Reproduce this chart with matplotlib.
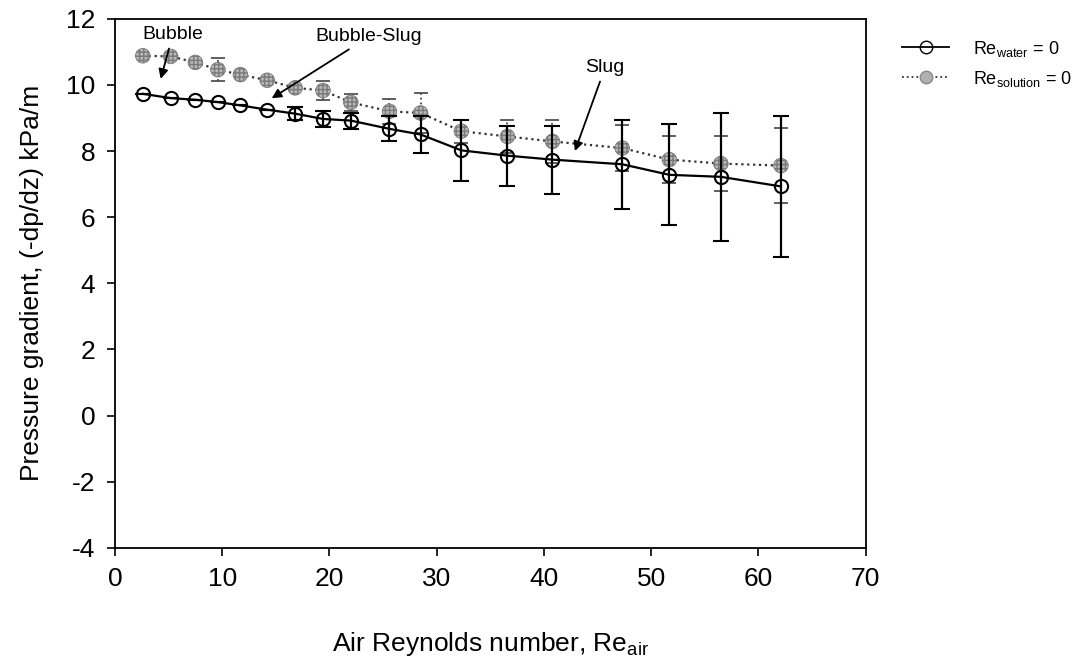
import numpy as np
import matplotlib
matplotlib.use("Agg")
import matplotlib.pyplot as plt
from matplotlib.lines import Line2D

plt.rcParams["font.family"] = ["Liberation Sans", "DejaVu Sans"]
plt.rcParams["axes.unicode_minus"] = False

# -*- Daten
re_air = [2.6, 5.2, 7.5, 9.6, 11.7, 14.2, 16.8, 19.4, 22.0, 25.6,
          28.5, 32.3, 36.6, 40.8, 47.3, 51.7, 56.5, 62.1]
dp_water = [9.73, 9.60, 9.55, 9.48, 9.38, 9.25, 9.13, 8.97, 8.92, 8.67,
            8.50, 8.02, 7.86, 7.74, 7.60, 7.28, 7.22, 6.93]
err_water = [0, 0, 0, 0, 0, 0, 0.20, 0.23, 0.24, 0.38,
             0.56, 0.92, 0.91, 1.03, 1.35, 1.53, 1.93, 2.13]
dp_solution = [10.88, 10.86, 10.68, 10.46, 10.31, 10.14, 9.91, 9.83, 9.47, 9.20,
               9.15, 8.60, 8.44, 8.29, 8.09, 7.74, 7.62, 7.56]
err_solution = [0, 0, 0, 0.35, 0, 0, 0, 0.28, 0.26, 0.37,
                0.60, 0.35, 0.49, 0.64, 0.70, 0.70, 0.82, 1.13]

x_ticks = [0, 10, 20, 30, 40, 50, 60, 70]
y_ticks = [-4, -2, 0, 2, 4, 6, 8, 10, 12]

fig = plt.figure(figsize=(10.74, 6.69), dpi=100)
ax = fig.add_axes([0.107, 0.181, 0.699, 0.791])

# Loesung: gepunktete Linie, graue Marker
eb = ax.errorbar(re_air, dp_solution, yerr=err_solution, fmt="none",
                 ecolor="#444444", elinewidth=1.3, capsize=5, capthick=1.2,
                 zorder=2)
eb[2][0].set_linestyle(":")
for cap in eb[1]:
    cap.set_color("#666666")
ax.plot(re_air, dp_solution, ls=":", color="#333333", lw=1.6, zorder=2)
ax.scatter(re_air, dp_solution, s=110, marker="o", facecolor="#b8b8b8",
           edgecolor="#7a7a7a", hatch="++++", linewidths=0.6, zorder=3)

# Wasser: durchgezogene Linie, offene Kreise
ax.errorbar(re_air, dp_water, yerr=err_water, fmt="-o", color="black",
            lw=1.6, ms=9.5, mfc="none", mec="black", mew=1.5,
            elinewidth=1.6, capsize=5.5, capthick=1.6, zorder=4)

ax.set_xlim(0, 70)
ax.set_ylim(-4, 12)
ax.set_xticks(x_ticks)
ax.set_yticks(y_ticks)
ax.tick_params(direction="out", length=6, width=1.2, labelsize=19, pad=8)
for s in ax.spines.values():
    s.set_linewidth(1.3)

ax.set_xlabel("Air Reynolds number, Re$_{\\mathregular{air}}$", fontsize=19,
              labelpad=28)
ax.set_ylabel("Pressure gradient, (-dp/dz) kPa/m", fontsize=19, labelpad=16)

# Stroemungsformen
akw = dict(arrowstyle="-|>", color="black", lw=1.3, mutation_scale=14)
ax.annotate("Bubble", xy=(4.2, 10.1), xytext=(5.4, 11.52), fontsize=14,
            ha="center", va="center", arrowprops=akw)
ax.annotate("Bubble-Slug", xy=(14.4, 9.55), xytext=(23.7, 11.46), fontsize=14,
            ha="center", va="center", arrowprops=akw)
ax.annotate("Slug", xy=(42.8, 7.92), xytext=(45.7, 10.52), fontsize=14,
            ha="center", va="center", arrowprops=akw)

handles = [
    Line2D([], [], color="black", lw=1.3, marker="o", ms=9, mfc="none",
           mec="black"),
    Line2D([], [], color="#333333", lw=1.3, ls=":", marker="o", ms=9,
           mfc="#b0b0b0", mec="#8a8a8a"),
]
labels = ["Re$_{\\mathregular{water}}$ = 0", "Re$_{\\mathregular{solution}}$ = 0"]
fig.legend(handles, labels, loc="upper left", bbox_to_anchor=(0.84, 0.942),
           frameon=False, fontsize=13, handlelength=2.6, handletextpad=1.3,
           borderpad=0, borderaxespad=0, labelspacing=0.55)

fig.savefig("out.png", dpi=100)
